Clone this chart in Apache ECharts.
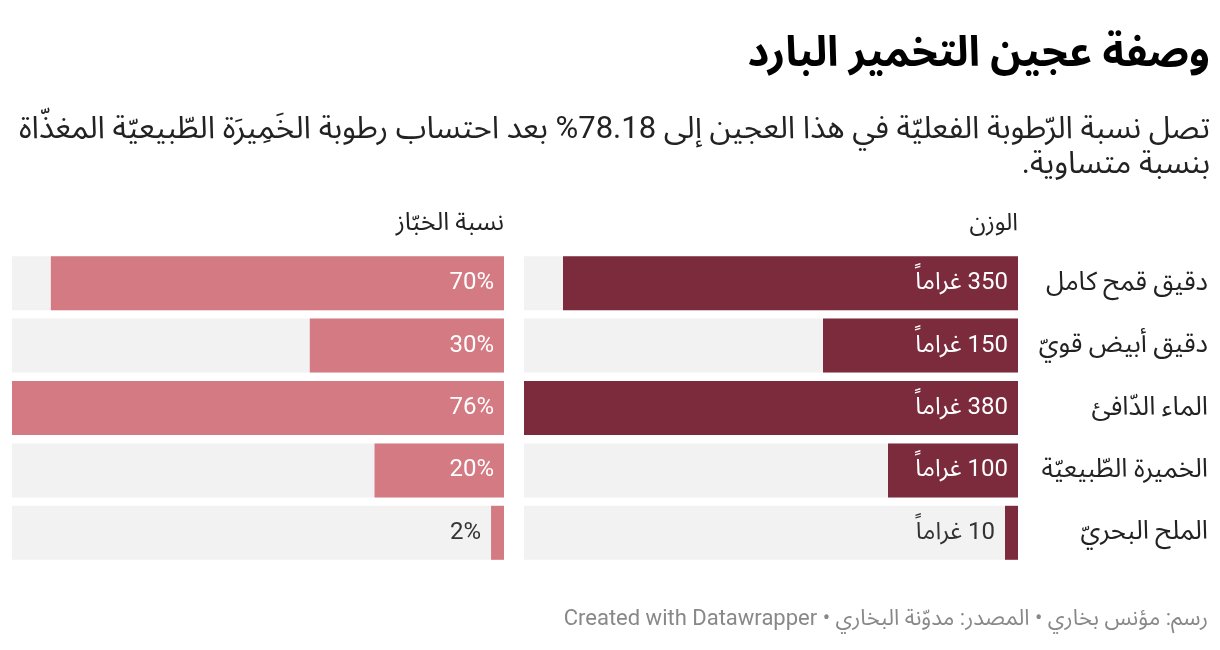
<!DOCTYPE html>
<html>
<head lang="ar">
    <meta charset="UTF-8"/>
    <title>وصفة عجين التخمير البارد</title>
    <script src="https://cdn.jsdelivr.net/npm/echarts@6/dist/echarts.min.js"></script>
    <style>
        html, body { margin: 0; padding: 0; background: #fff; }
        #main { width: 1220px; height: 650px; direction: rtl; }
    </style>
</head>
<body>
<div id="main" dir="rtl"></div>
<script>
    // بيانات الرسم
    var ingredients = ['دقيق قمح كامل', 'دقيق أبيض قويّ', 'الماء الدّافئ', 'الخميرة الطّبيعيّة', 'الملح البحريّ'];
    var weights = [350, 150, 380, 100, 10];
    var bakerPct = [70, 30, 76, 20, 2];

    var FONT = 'Roboto, "Noto Sans Arabic", "Noto Sans", "DejaVu Sans", sans-serif';
    var DARK = '#7b2b3b';
    var PINK = '#d47a83';
    var BG = '#f2f2f2';

    // العناصر الصغيرة توضع تسميتها خارج العمود
    function weightData() {
        return weights.map(function (v) {
            var item = {value: v};
            if (v < 60) {
                item.label = {position: 'left', color: '#333', distance: 10};
            }
            return item;
        });
    }
    function pctData() {
        return bakerPct.map(function (v) {
            var item = {value: v};
            if (v < 10) {
                item.label = {position: 'left', color: '#333', distance: 10};
            }
            return item;
        });
    }

    var myChart = echarts.init(document.getElementById('main'));
    var option = {
        animation: false,
        textStyle: {fontFamily: FONT},
        grid: [
            {left: 524, right: 202, top: 252, height: 312},
            {left: 12, right: 716, top: 252, height: 312}
        ],
        xAxis: [
            {type: 'value', gridIndex: 0, min: 0, max: 380, inverse: true, show: false},
            {type: 'value', gridIndex: 1, min: 0, max: 76, inverse: true, show: false}
        ],
        yAxis: [
            {
                type: 'category', gridIndex: 0, data: ingredients, inverse: true, position: 'right',
                axisLine: {show: false}, axisTick: {show: false},
                axisLabel: {margin: 190, align: 'right', fontSize: 26, color: '#222', fontFamily: FONT}
            },
            {
                type: 'category', gridIndex: 1, data: ingredients, inverse: true, position: 'right',
                show: false
            }
        ],
        series: [
            {
                type: 'bar', xAxisIndex: 0, yAxisIndex: 0, data: weightData(), barWidth: 54,
                itemStyle: {color: DARK},
                showBackground: true, backgroundStyle: {color: BG},
                label: {
                    show: true, position: 'insideRight', distance: 10, color: '#fff',
                    fontSize: 24, fontFamily: FONT,
                    formatter: function (p) { return p.value + ' غراماً'; }
                }
            },
            {
                type: 'bar', xAxisIndex: 1, yAxisIndex: 1, data: pctData(), barWidth: 54,
                itemStyle: {color: PINK},
                showBackground: true, backgroundStyle: {color: BG},
                label: {
                    show: true, position: 'insideRight', distance: 10, color: '#fff',
                    fontSize: 24, fontFamily: FONT,
                    formatter: function (p) { return p.value + '%'; }
                }
            }
        ],
        graphic: [
            {type: 'text', style: {text: 'وصفة عجين التخمير البارد', x: 1210, y: 55, align: 'right', verticalAlign: 'middle',
                font: 'bold 42px ' + FONT, fill: '#000'}},
            {type: 'text', style: {text: 'تصل نسبة الرّطوبة الفعليّة في هذا العجين إلى 78.18% بعد احتساب رطوبة الخَمِيرَة الطّبيعيّة المغذّاة',
                x: 1210, y: 130, align: 'right', verticalAlign: 'middle', font: '31px ' + FONT, fill: '#222'}},
            {type: 'text', style: {text: 'بنسبة متساوية.', x: 1210, y: 165, align: 'right', verticalAlign: 'middle',
                font: '31px ' + FONT, fill: '#222'}},
            {type: 'text', style: {text: 'الوزن', x: 1018, y: 224, align: 'right', verticalAlign: 'middle',
                font: '24px ' + FONT, fill: '#222'}},
            {type: 'text', style: {text: 'نسبة الخبّاز', x: 504, y: 224, align: 'right', verticalAlign: 'middle',
                font: '25px ' + FONT, fill: '#222'}},
            {type: 'text', style: {text: 'رسم: مؤنس بخاري • المصدر: مدوّنة البخاري • Created with Datawrapper',
                x: 1208, y: 619, align: 'right', verticalAlign: 'middle', font: '22px ' + FONT, fill: '#888'}}
        ]
    };
    myChart.setOption(option);
</script>
</body>
</html>
